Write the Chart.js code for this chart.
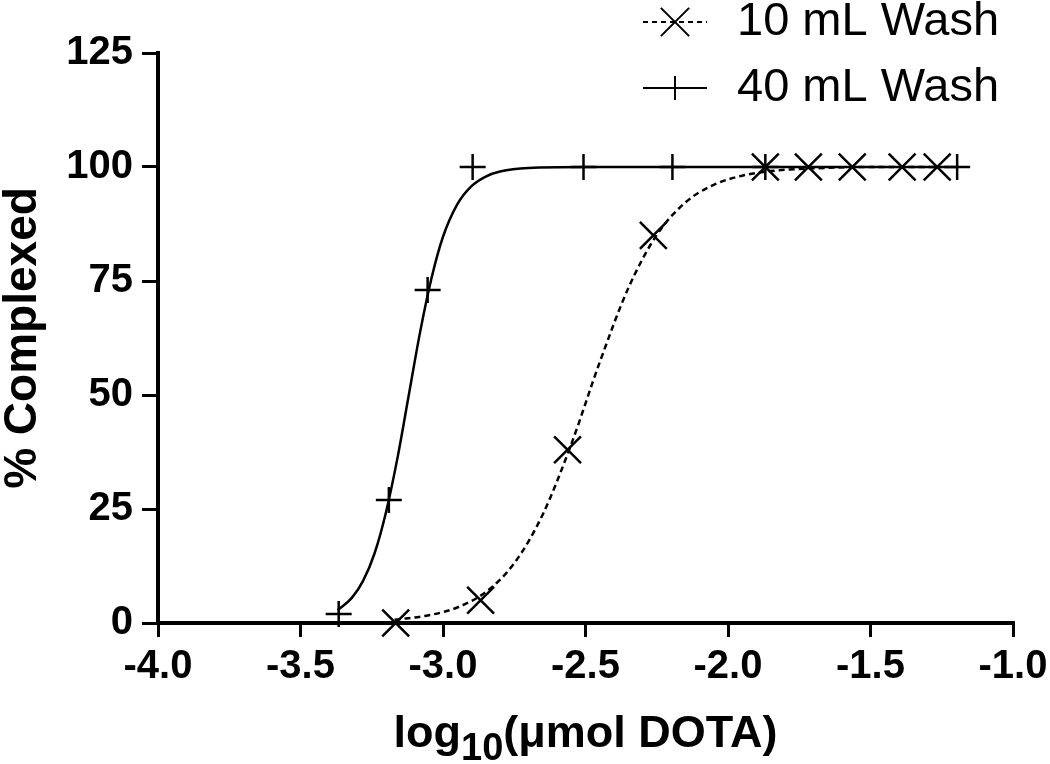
<!DOCTYPE html>
<html>
<head>
<meta charset="utf-8">
<script src="https://cdn.jsdelivr.net/npm/chart.js@4.4.1/dist/chart.umd.min.js"></script>
<style>
  html, body { margin: 0; padding: 0; background: #fff; }
  #wrap { width: 1050px; height: 764px; }
</style>
</head>
<body>
<div id="wrap"><canvas id="chart" width="1050" height="764"></canvas></div>
<script>
const seriesLabels = ['10 mL Wash', '40 mL Wash']

// measured points
const wash10X = [-3.166, -2.868, -2.563, -2.262, -1.869, -1.718, -1.564, -1.389, -1.266]
const wash10Y = [0, 5, 38, 85, 100, 100, 100, 100, 100]
const wash40X = [-3.366, -3.19, -3.054, -2.896, -2.507, -2.195, -1.869, -1.196]
const wash40Y = [2, 27, 73, 100, 100, 100, 100, 100]

// fitted curves
const fit10X = [-3.17, -3.05, -2.95, -2.85, -2.75, -2.65, -2.55, -2.45, -2.35, -2.25, -2.15, -2.05, -1.95, -1.85, -1.70, -1.50, -1.27]
const fit10Y = [0.7, 1.7, 3.4, 6.8, 13.1, 23.8, 39.2, 57.2, 73.4, 85.1, 92.2, 96.1, 98.1, 99.1, 99.7, 100, 100]
const fit40X = [-3.37, -3.32, -3.28, -3.24, -3.20, -3.16, -3.12, -3.08, -3.04, -3.00, -2.95, -2.90, -2.85, -2.80, -2.70, -2.50, -2.00, -1.50, -1.20]
const fit40Y = [2.8, 5.5, 9.3, 15.3, 24.3, 36.1, 50.0, 63.9, 75.7, 84.7, 91.8, 95.8, 97.9, 99.0, 99.8, 100, 100, 100, 100]

const xTicks = [-4.0, -3.5, -3.0, -2.5, -2.0, -1.5, -1.0]
const yTicks = [0, 25, 50, 75, 100, 125]

const FONT = '"Liberation Sans", Arial, Helvetica, sans-serif'
const INK = '#000'

const toPoints = (xs, ys) => xs.map((x, i) => ({ x, y: ys[i] }))

const legendPlugin = {
  id: 'washLegend',
  afterDraw(chart) {
    const { ctx } = chart
    const ds = chart.data.datasets
    const rows = [
      { marker: ds[0], line: ds[2], y: 22, baseline: 35, radius: 20 },
      { marker: ds[1], line: ds[3], y: 88, baseline: 101, radius: 12 },
    ]
    ctx.save()
    ctx.strokeStyle = INK
    ctx.fillStyle = INK
    rows.forEach((row) => {
      ctx.lineWidth = 2
      ctx.setLineDash(row.line.borderDash.length ? [5, 4] : [])
      ctx.beginPath()
      ctx.moveTo(643, row.y)
      ctx.lineTo(707, row.y)
      ctx.stroke()
      ctx.setLineDash([])
      Chart.helpers.drawPoint(ctx, {
        pointStyle: row.marker.pointStyle,
        radius: row.radius,
        borderWidth: 2,
        rotation: 0,
      }, 675, row.y)
      ctx.font = `47px ${FONT}`
      ctx.textAlign = 'left'
      ctx.textBaseline = 'alphabetic'
      ctx.fillText(row.marker.label, 737, row.baseline)
    })
    ctx.restore()
  },
}

const xTitlePlugin = {
  id: 'xTitle',
  afterDraw(chart) {
    const { ctx, chartArea } = chart
    const parts = [
      { text: 'log', font: `bold 45px ${FONT}`, dy: 0 },
      { text: '10', font: `bold 38px ${FONT}`, dy: 13 },
      { text: '(μmol DOTA)', font: `bold 45px ${FONT}`, dy: 0 },
    ]
    ctx.save()
    ctx.fillStyle = INK
    ctx.textBaseline = 'alphabetic'
    ctx.textAlign = 'left'
    let total = 0
    parts.forEach((p) => {
      ctx.font = p.font
      p.w = ctx.measureText(p.text).width
      total += p.w
    })
    let x = (chartArea.left + chartArea.right) / 2 - total / 2
    const base = chartArea.bottom + 124
    parts.forEach((p) => {
      ctx.font = p.font
      ctx.fillText(p.text, x, base + p.dy)
      x += p.w
    })
    ctx.restore()
  },
}

const axisCommon = {
  type: 'linear',
  border: { display: true, width: 4, color: INK },
  grid: {
    display: true,
    drawOnChartArea: false,
    drawTicks: true,
    lineWidth: 3,
    color: INK,
  },
}

new Chart(document.getElementById('chart'), {
  type: 'scatter',
  data: {
    datasets: [
      {
        label: seriesLabels[0],
        data: toPoints(wash10X, wash10Y),
        pointStyle: 'crossRot',
        pointRadius: 19,
        pointBorderWidth: 2.5,
        borderColor: INK,
        backgroundColor: INK,
        showLine: false,
        clip: false,
        order: 0,
      },
      {
        label: seriesLabels[1],
        data: toPoints(wash40X, wash40Y),
        pointStyle: 'cross',
        pointRadius: 13,
        pointBorderWidth: 2.5,
        borderColor: INK,
        backgroundColor: INK,
        showLine: false,
        clip: false,
        order: 0,
      },
      {
        label: seriesLabels[0] + ' fit',
        data: toPoints(fit10X, fit10Y),
        showLine: true,
        pointRadius: 0,
        borderColor: INK,
        borderWidth: 2.5,
        borderDash: [6, 4],
        cubicInterpolationMode: 'monotone',
        clip: false,
        order: 1,
      },
      {
        label: seriesLabels[1] + ' fit',
        data: toPoints(fit40X, fit40Y),
        showLine: true,
        pointRadius: 0,
        borderColor: INK,
        borderWidth: 2.5,
        borderDash: [],
        cubicInterpolationMode: 'monotone',
        clip: false,
        order: 1,
      },
    ],
  },
  options: {
    responsive: false,
    animation: false,
    events: [],
    devicePixelRatio: 1,
    layout: { padding: { top: 53, right: 37, left: 0, bottom: 0 } },
    plugins: {
      legend: { display: false },
      tooltip: { enabled: false },
    },
    scales: {
      x: {
        ...axisCommon,
        min: -4,
        max: -1,
        grid: { ...axisCommon.grid, tickLength: 14 },
        ticks: {
          color: INK,
          padding: 6,
          maxRotation: 0,
          font: { family: FONT, size: 40, weight: 'bold' },
          callback: (v) => Number(v).toFixed(1),
        },
        afterBuildTicks: (scale) => {
          scale.ticks = xTicks.map((value) => ({ value }))
        },
        afterFit: (scale) => {
          scale.height = 141
          scale.paddingLeft = 0
          scale.paddingRight = 0
        },
      },
      y: {
        ...axisCommon,
        min: 0,
        max: 125,
        grid: { ...axisCommon.grid, tickLength: 16 },
        ticks: {
          color: INK,
          padding: 9,
          font: { family: FONT, size: 40, weight: 'bold' },
        },
        title: {
          display: true,
          text: '% Complexed',
          color: INK,
          padding: 0,
          font: { family: FONT, size: 46, weight: 'bold', lineHeight: 1 },
        },
        afterBuildTicks: (scale) => {
          scale.ticks = yTicks.map((value) => ({ value }))
        },
        afterFit: (scale) => {
          scale.width = 158
          scale.paddingTop = 0
          scale.paddingBottom = 0
        },
      },
    },
  },
  plugins: [legendPlugin, xTitlePlugin],
})
</script>
</body>
</html>
